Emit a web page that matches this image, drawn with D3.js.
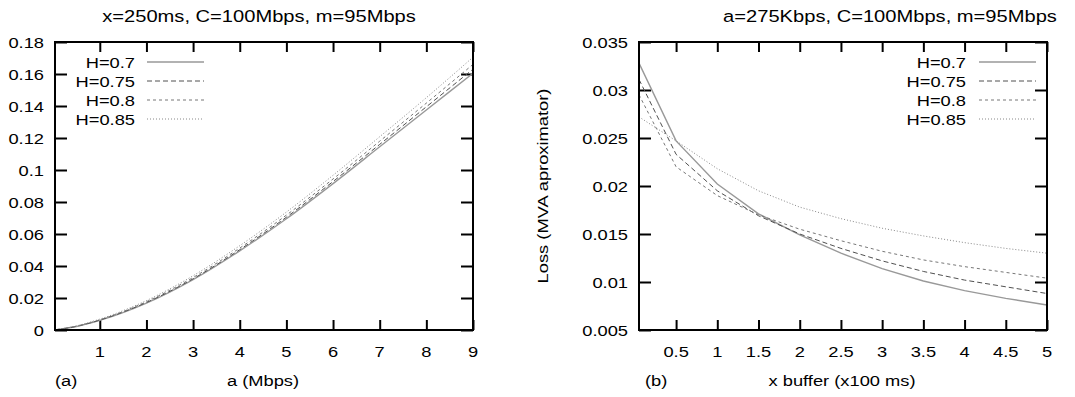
<!DOCTYPE html>
<html>
<head>
<meta charset="utf-8">
<style>
  body { margin: 0; background: #fff; }
  svg { display: block; }
  text { font-family: "Liberation Sans", Arial, sans-serif; fill: #000; }
</style>
</head>
<body>
<script src="https://cdn.jsdelivr.net/npm/d3@7"></script>
<script>
// ---- data ----
var hLabels = ["H=0.7", "H=0.75", "H=0.8", "H=0.85"];

// panel (a): loss vs a (Mbps)
var aX = [0.04, 0.5, 1, 2, 3, 4, 5, 6, 7, 8, 9];
var aH70 = [0.0001, 0.0022, 0.0060, 0.0168, 0.0315, 0.0495, 0.0695, 0.0915, 0.1145, 0.1375, 0.1605];
var aH75 = [0.0001, 0.0023, 0.0062, 0.0172, 0.0320, 0.0502, 0.0705, 0.0928, 0.1160, 0.1395, 0.1630];
var aH80 = [0.0001, 0.0024, 0.0064, 0.0177, 0.0328, 0.0512, 0.0718, 0.0944, 0.1180, 0.1418, 0.1660];
var aH85 = [0.0001, 0.0026, 0.0068, 0.0184, 0.0339, 0.0527, 0.0737, 0.0967, 0.1208, 0.1452, 0.1705];
var aXTicks = [1, 2, 3, 4, 5, 6, 7, 8, 9];
var aYTicks = [0, 0.02, 0.04, 0.06, 0.08, 0.1, 0.12, 0.14, 0.16, 0.18];

// panel (b): loss vs buffer (x100 ms)
var bX = [0.05, 0.5, 1, 1.5, 2, 2.5, 3, 3.5, 4, 4.5, 5];
var bH70 = [0.0328, 0.0247, 0.0202, 0.0171, 0.0149, 0.0130, 0.0114, 0.0101, 0.0091, 0.0083, 0.0076];
var bH75 = [0.0311, 0.0233, 0.0195, 0.0169, 0.0150, 0.0135, 0.0122, 0.0111, 0.0102, 0.0095, 0.0088];
var bH80 = [0.0295, 0.0220, 0.0190, 0.0170, 0.0155, 0.0143, 0.0132, 0.0123, 0.0116, 0.0110, 0.0104];
var bH85 = [0.0272, 0.0247, 0.0218, 0.0195, 0.0178, 0.0166, 0.0156, 0.0148, 0.0141, 0.0135, 0.0130];
var bXTicks = [0.5, 1, 1.5, 2, 2.5, 3, 3.5, 4, 4.5, 5];
var bYTicks = [0.005, 0.01, 0.015, 0.02, 0.025, 0.03, 0.035];

// line styles per H
var styles = [
  {color: "#999", width: 1.4, dash: null},
  {color: "#505050", width: 1, dash: "5,3"},
  {color: "#777", width: 1, dash: "3,3"},
  {color: "#888", width: 1, dash: "1,2"}
];

var W = 1075, H = 397, SX = 1.22;

var svg = d3.select("body").append("svg")
    .attr("width", W)
    .attr("height", H);

// text is horizontally stretched in the original
function label(g, x, y, str, anchor, size, rot) {
  return g.append("text")
    .attr("transform", "translate(" + x + "," + y + ")" + (rot ? "rotate(" + rot + ")" : "") + "scale(" + SX + ",1)")
    .attr("text-anchor", anchor || "middle")
    .style("font-size", (size || 15) + "px")
    .text(str);
}

function panel(opt) {
  var g = svg.append("g");
  var x = d3.scaleLinear().domain(opt.xDomain).range([opt.left, opt.right]);
  var y = d3.scaleLinear().domain(opt.yDomain).range([opt.bottom, opt.top]);

  // ticks (inward, mirrored)
  var tk = function(sel) {
    sel.selectAll("text").remove();
    sel.select(".domain").remove();
    sel.selectAll("line").attr("stroke", "#000").attr("stroke-width", 2);
  };
  g.append("g").attr("transform", "translate(0," + opt.bottom + ")")
    .call(d3.axisBottom(x).tickValues(opt.xTicks).tickSizeInner(-10).tickSizeOuter(0)).call(tk);
  g.append("g").attr("transform", "translate(0," + opt.top + ")")
    .call(d3.axisTop(x).tickValues(opt.xTicks).tickSizeInner(-10).tickSizeOuter(0)).call(tk);
  g.append("g").attr("transform", "translate(" + opt.left + ",0)")
    .call(d3.axisLeft(y).tickValues(opt.yTicks).tickSizeInner(-12).tickSizeOuter(0)).call(tk);
  g.append("g").attr("transform", "translate(" + opt.right + ",0)")
    .call(d3.axisRight(y).tickValues(opt.yTicks).tickSizeInner(-12).tickSizeOuter(0)).call(tk);

  // tick labels
  opt.xTicks.forEach(function(t) { label(g, x(t), 357, String(t), "middle", 15); });
  opt.yTicks.forEach(function(t) { label(g, opt.left - 11, y(t) + 5.5, String(t), "end", 15); });

  // curves
  var line = d3.line()
    .x(function(d) { return x(d[0]); })
    .y(function(d) { return y(d[1]); })
    .curve(opt.curve);
  opt.series.forEach(function(s, i) {
    var st = styles[i];
    g.append("path")
      .datum(opt.xs.map(function(v, j) { return [v, s[j]]; }))
      .attr("d", line)
      .attr("fill", "none")
      .attr("stroke", st.color)
      .attr("stroke-width", st.width)
      .attr("stroke-dasharray", st.dash);
  });

  // legend
  hLabels.forEach(function(h, i) {
    var ly = opt.legY + i * 19;
    label(g, opt.legText, ly + 5.5, h, "end", 15);
    g.append("line")
      .attr("x1", opt.legLine[0]).attr("x2", opt.legLine[1])
      .attr("y1", ly).attr("y2", ly)
      .attr("stroke", styles[i].color)
      .attr("stroke-width", styles[i].width)
      .attr("stroke-dasharray", styles[i].dash);
  });

  // frame
  g.append("rect")
    .attr("x", opt.left).attr("y", opt.top)
    .attr("width", opt.right - opt.left).attr("height", opt.bottom - opt.top)
    .attr("fill", "none").attr("stroke", "#000").attr("stroke-width", 2);

  // titles and labels
  label(g, opt.titleX, 22, opt.title, "middle", 16.5);
  label(g, opt.xLabelX, 386, opt.xLabel, "middle", 15);
  label(g, opt.tagX, 386, opt.tag, "start", 15);
  if (opt.yLabel) label(g, opt.yLabelX, (opt.top + opt.bottom) / 2, opt.yLabel, "middle", 15, -90);
}

panel({
  left: 55, right: 473, top: 42, bottom: 330,
  xDomain: [0.04, 9], yDomain: [0, 0.18],
  xTicks: aXTicks, yTicks: aYTicks,
  xs: aX, series: [aH70, aH75, aH80, aH85],
  curve: d3.curveMonotoneX,
  legY: 62, legText: 135, legLine: [147, 204],
  title: "x=250ms, C=100Mbps, m=95Mbps", titleX: 259,
  xLabel: "a (Mbps)", xLabelX: 263,
  tag: "(a)", tagX: 55
});

panel({
  left: 639, right: 1047, top: 42, bottom: 330,
  xDomain: [0.05, 5], yDomain: [0.005, 0.035],
  xTicks: bXTicks, yTicks: bYTicks,
  xs: bX, series: [bH70, bH75, bH80, bH85],
  curve: d3.curveLinear,
  legY: 62, legText: 966, legLine: [979, 1036],
  title: "a=275Kbps, C=100Mbps, m=95Mbps", titleX: 890,
  xLabel: "x buffer (x100 ms)", xLabelX: 842,
  tag: "(b)", tagX: 645,
  yLabel: "Loss (MVA aproximator)", yLabelX: 548
});
</script>
</body>
</html>
